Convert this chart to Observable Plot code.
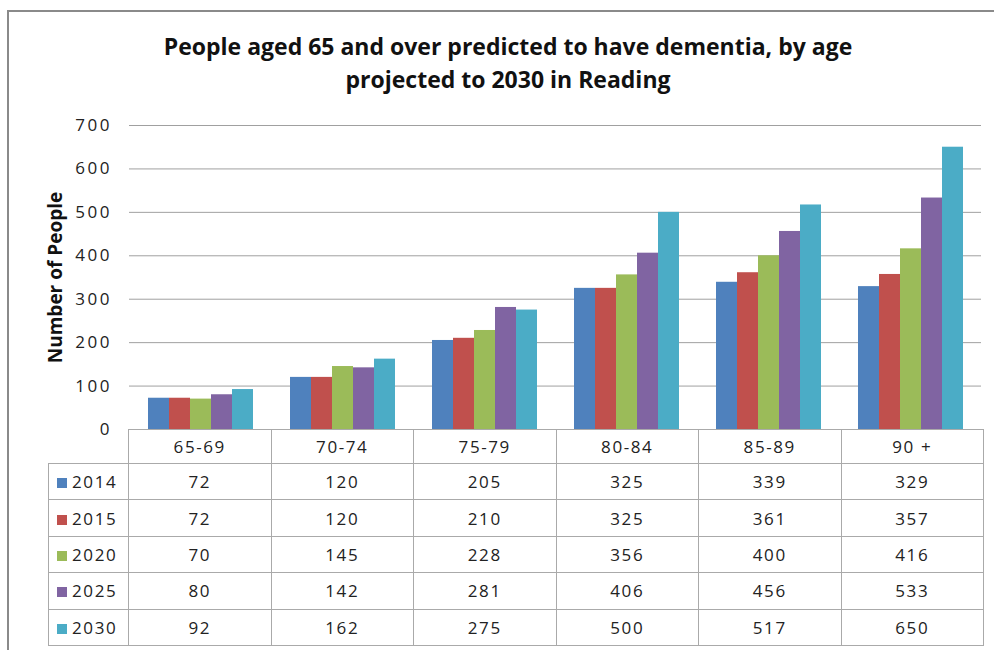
<!DOCTYPE html>
<html>
<head>
<meta charset="utf-8">
<script src="https://cdn.jsdelivr.net/npm/d3@7"></script>
<script src="https://cdn.jsdelivr.net/npm/@observablehq/plot@0.6"></script>
<style>
  html, body { margin: 0; padding: 0; background: #fff; }
  body { width: 994px; height: 650px; overflow: hidden; position: relative; font-family: "Open Sans", Lato, sans-serif; color: #222; }
  #border { position: absolute; left: 7px; top: 10px; width: 1100px; height: 800px; border: 2px solid #8a8a8a; box-sizing: border-box; }
  #title { position: absolute; left: 20px; width: 976px; top: 30px; text-align: center; font-weight: bold; font-size: 23px; line-height: 33px; color: #111; }
  #chart { position: absolute; left: 0; top: 100px; }
  #table { position: absolute; left: 48px; top: 429px; border-collapse: collapse; table-layout: fixed; font-size: 17px; letter-spacing: 1.6px; color: #222; }
  #table td { border: 1px solid #aaa; text-align: center; padding: 0; }
  #table tr.head td { height: 33px; }
  #table tr.row td { height: 35.4px; }
  #table td.corner { border-top: none; border-left: none; }
  #table td.key { text-align: left; padding-left: 8px; white-space: nowrap; }
  .sw { display: inline-block; width: 10px; height: 10px; margin-right: 5px; vertical-align: 0px; }
</style>
</head>
<body>
<div id="border"></div>
<div id="title">People aged 65 and over predicted to have dementia, by age<br>projected to 2030 in Reading</div>
<div id="chart"></div>
<table id="table"></table>
<script>
const ages = ["65-69", "70-74", "75-79", "80-84", "85-89", "90 +"];
const years = ["2014", "2015", "2020", "2025", "2030"];
const v2014 = [72, 120, 205, 325, 339, 329];
const v2015 = [72, 120, 210, 325, 361, 357];
const v2020 = [70, 145, 228, 356, 400, 416];
const v2025 = [80, 142, 281, 406, 456, 533];
const v2030 = [92, 162, 275, 500, 517, 650];
const yTicks = [0, 100, 200, 300, 400, 500, 600, 700];
const colors = ["#4F81BD", "#C0504D", "#9BBB59", "#8064A2", "#4BACC6"];
const yLabel = "Number of People";

const series = [v2014, v2015, v2020, v2025, v2030];
const data = [];
ages.forEach((a, i) => years.forEach((y, j) => data.push({age: a, year: y, value: series[j][i]})));

const chart = Plot.plot({
  width: 994,
  height: 340,
  marginTop: 25,
  marginBottom: 11,
  marginLeft: 127,
  marginRight: 12,
  style: {fontFamily: "'Open Sans', Lato, sans-serif", fontSize: "17px", color: "#222", background: "transparent"},
  fx: {domain: ages, padding: 0, axis: null},
  x: {domain: years, paddingInner: 0, paddingOuter: 0.8, axis: null},
  y: {domain: [0, 700], axis: null},
  color: {domain: years, range: colors},
  marks: [
    Plot.gridY(yTicks, {stroke: "#a0a0a0", strokeOpacity: 1, strokeWidth: 1}),
    Plot.barY(data, {fx: "age", x: "year", y: "value", fill: "year"}),
    Plot.axisY(yTicks, {tickSize: 0, tickPadding: 17.5, label: null, line: true, stroke: "#a0a0a0", fontSize: 17}),
    Plot.text([{age: ages[0], label: yLabel}], {fx: "age", text: "label", frameAnchor: "left", textAnchor: "middle", rotate: -90, dx: -74, fontWeight: "bold", fontSize: 19, fill: "#111"})
  ]
});
chart.querySelectorAll("g[aria-label='y-axis tick label'] text").forEach(t => t.style.letterSpacing = "2.5px");
document.getElementById("chart").appendChild(chart);

// data table
const table = document.getElementById("table");
const colgroup = document.createElement("colgroup");
const c0 = document.createElement("col"); c0.style.width = "80px"; colgroup.appendChild(c0);
ages.forEach(() => { const c = document.createElement("col"); c.style.width = "142.5px"; colgroup.appendChild(c); });
table.appendChild(colgroup);
const head = document.createElement("tr"); head.className = "head";
const corner = document.createElement("td"); corner.className = "corner"; head.appendChild(corner);
ages.forEach(a => { const td = document.createElement("td"); td.textContent = a; head.appendChild(td); });
table.appendChild(head);
years.forEach((y, j) => {
  const tr = document.createElement("tr"); tr.className = "row";
  const k = document.createElement("td"); k.className = "key";
  const sw = document.createElement("span"); sw.className = "sw"; sw.style.background = colors[j];
  k.appendChild(sw); k.appendChild(document.createTextNode(y));
  tr.appendChild(k);
  series[j].forEach(v => { const td = document.createElement("td"); td.textContent = v; tr.appendChild(td); });
  table.appendChild(tr);
});
</script>
</body>
</html>
